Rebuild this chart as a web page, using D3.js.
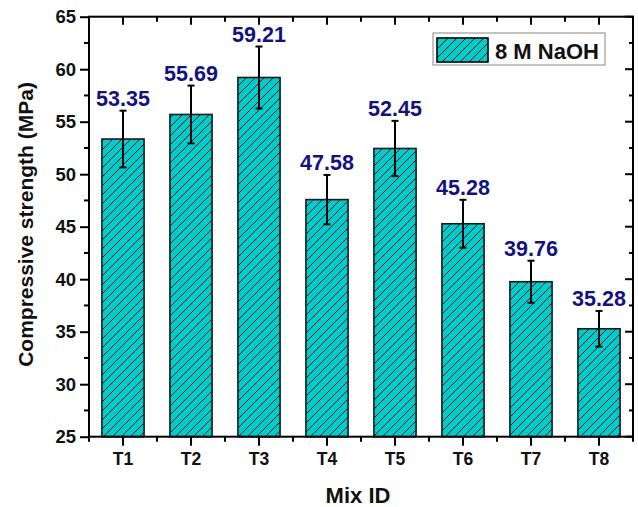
<!DOCTYPE html>
<html>
<head>
<meta charset="utf-8">
<script src="https://cdn.jsdelivr.net/npm/d3@7"></script>
<style>
  html, body { margin: 0; padding: 0; background: #fff; }
  svg { display: block; }
  svg text { font-family: "Liberation Sans", Arial, sans-serif; font-weight: bold; }
</style>
</head>
<body>
<svg id="chart" width="638" height="507"></svg>
<script>
// Compressive strength of the mixes (8 M NaOH)
const mixes = ["T1", "T2", "T3", "T4", "T5", "T6", "T7", "T8"];
const strength = [53.35, 55.69, 59.21, 47.58, 52.45, 45.28, 39.76, 35.28];
const stdDev = [2.7, 2.75, 2.95, 2.35, 2.63, 2.28, 2.0, 1.7];
const yTicks = [25, 30, 35, 40, 45, 50, 55, 60, 65];
const seriesName = "8 M NaOH";

const barFill = "#00cccc";
const labelColor = "#12127f";

const svg = d3.select("#chart");
const plotL = 89, plotR = 633, plotT = 16.7, plotB = 436.7;

const x = d3.scaleBand().domain(mixes).range([plotL, plotR])
  .paddingInner(0.38).paddingOuter(0.19);
const y = d3.scaleLinear().domain([25, 65]).range([plotB, plotT]);

// diagonal hatch
const defs = svg.append("defs");
const pat = defs.append("pattern").attr("id", "hatch")
  .attr("patternUnits", "userSpaceOnUse").attr("width", 9).attr("height", 9);
pat.append("rect").attr("width", 9).attr("height", 9).attr("fill", barFill);
pat.append("path").attr("d", "M0,9 L9,0 M-2,2 L2,-2 M7,11 L11,7")
  .attr("stroke", "#000").attr("stroke-width", 0.9);

// bars
svg.append("g").selectAll("rect").data(mixes).join("rect")
  .attr("x", d => x(d))
  .attr("y", (d, i) => y(strength[i]))
  .attr("width", x.bandwidth())
  .attr("height", (d, i) => plotB - y(strength[i]))
  .attr("fill", "url(#hatch)")
  .attr("stroke", "#1a1a1a").attr("stroke-width", 1.6);

// error bars
const eb = svg.append("g").attr("stroke", "#000").attr("stroke-width", 2);
mixes.forEach((m, i) => {
  const cx = x(m) + x.bandwidth() / 2;
  const hi = y(strength[i] + stdDev[i]), lo = y(strength[i] - stdDev[i]);
  eb.append("line").attr("x1", cx).attr("x2", cx).attr("y1", hi).attr("y2", lo);
  eb.append("line").attr("x1", cx - 3.5).attr("x2", cx + 3.5).attr("y1", hi).attr("y2", hi);
  eb.append("line").attr("x1", cx - 3.5).attr("x2", cx + 3.5).attr("y1", lo).attr("y2", lo);
});

// value labels
svg.append("g").selectAll("text").data(mixes).join("text")
  .attr("x", d => x(d) + x.bandwidth() / 2)
  .attr("y", (d, i) => y(strength[i] + stdDev[i]) - 5)
  .attr("text-anchor", "middle")
  .attr("font-size", 21.5)
  .attr("fill", labelColor)
  .text((d, i) => strength[i].toFixed(2));

// axes
const minorY = d3.range(27.5, 65, 5);
const xCenters = mixes.map(m => x(m) + x.bandwidth() / 2);
const step = x.step();
const minorX = d3.range(0, mixes.length + 1).map(i => plotL + i * step);

const axisG = svg.append("g").attr("stroke", "#000").attr("stroke-width", 2);

// left axis
const yAxis = d3.axisLeft(y).tickValues(yTicks).tickSize(9).tickPadding(4);
const gy = svg.append("g").attr("transform", `translate(${plotL},0)`).call(yAxis)
  .attr("font-family", null);
gy.select(".domain").remove();
gy.selectAll(".tick line").attr("stroke-width", 2);
gy.selectAll(".tick text").attr("font-size", 18.5).attr("fill", "#111");
minorY.forEach(v => axisG.append("line").attr("x1", plotL - 5).attr("x2", plotL).attr("y1", y(v)).attr("y2", y(v)));

// bottom axis
const xAxis = d3.axisBottom(x).tickSize(9).tickPadding(7);
const gx = svg.append("g").attr("transform", `translate(0,${plotB})`).call(xAxis)
  .attr("font-family", null);
gx.select(".domain").remove();
gx.selectAll(".tick line").attr("stroke-width", 2);
gx.selectAll(".tick text").attr("font-size", 17.5).attr("fill", "#111");
minorX.forEach(v => axisG.append("line").attr("x1", v).attr("x2", v).attr("y1", plotB).attr("y2", plotB + 5));

// top axis, ticks inward
xCenters.forEach(v => axisG.append("line").attr("x1", v).attr("x2", v).attr("y1", plotT).attr("y2", plotT + 8));
minorX.forEach(v => axisG.append("line").attr("x1", v).attr("x2", v).attr("y1", plotT).attr("y2", plotT + 5));

// right axis, ticks inward
yTicks.forEach(v => axisG.append("line").attr("x1", plotR - 8).attr("x2", plotR).attr("y1", y(v)).attr("y2", y(v)));
minorY.forEach(v => axisG.append("line").attr("x1", plotR - 4).attr("x2", plotR).attr("y1", y(v)).attr("y2", y(v)));

// frame
axisG.append("rect").attr("x", plotL).attr("y", plotT)
  .attr("width", plotR - plotL).attr("height", plotB - plotT).attr("fill", "none");

// axis titles
svg.append("text").attr("transform", `translate(33,${(82 + 367) / 2}) rotate(-90)`)
  .attr("text-anchor", "middle").attr("font-size", 21).attr("fill", "#111")
  .text("Compressive strength (MPa)");
svg.append("text").attr("x", 358).attr("y", 503)
  .attr("text-anchor", "middle").attr("font-size", 22).attr("fill", "#111")
  .text("Mix ID");

// legend
const lg = svg.append("g");
lg.append("rect").attr("x", 433).attr("y", 33).attr("width", 172).attr("height", 32)
  .attr("fill", "#fff").attr("stroke", "#888").attr("stroke-width", 1);
lg.append("rect").attr("x", 437).attr("y", 38).attr("width", 51).attr("height", 24)
  .attr("fill", "url(#hatch)").attr("stroke", "#000").attr("stroke-width", 1.6);
lg.append("text").attr("x", 495).attr("y", 58.5).attr("font-size", 22).attr("fill", "#111")
  .text(seriesName);
</script>
</body>
</html>
